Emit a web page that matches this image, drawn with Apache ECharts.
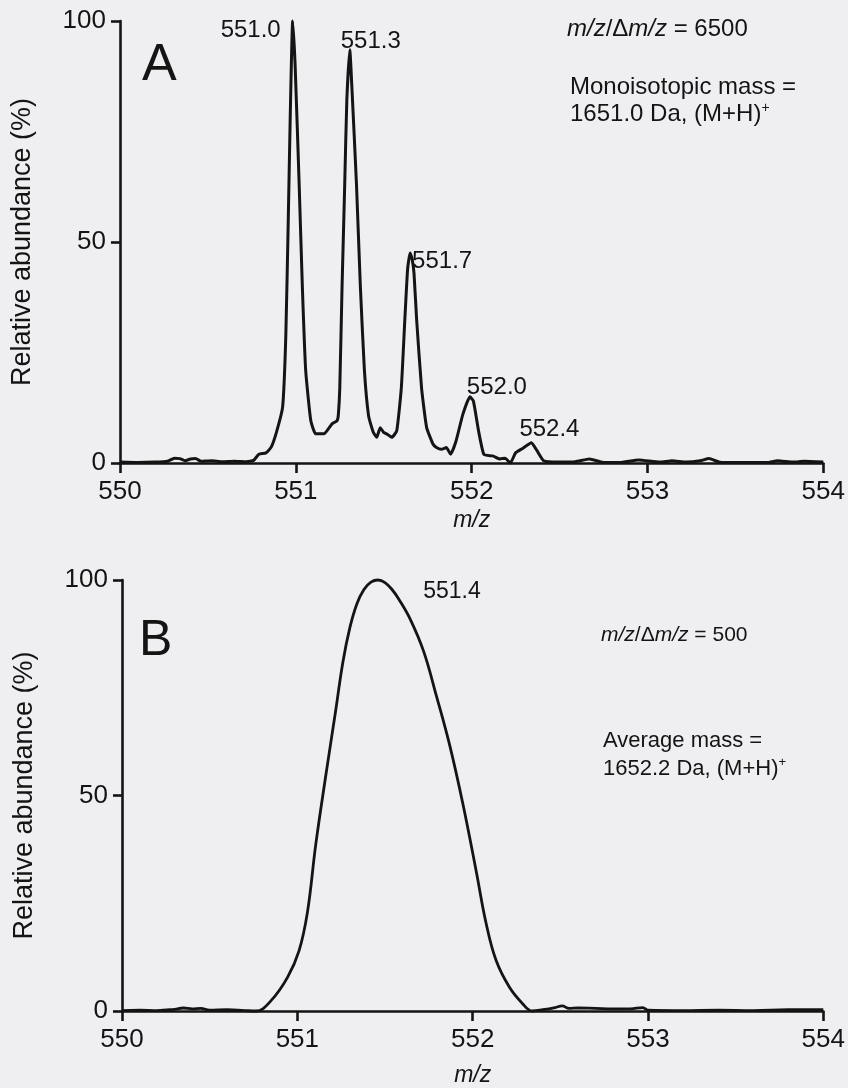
<!DOCTYPE html>
<html><head><meta charset="utf-8">
<script src="https://cdn.jsdelivr.net/npm/echarts@6/dist/echarts.min.js"></script>
<style>html,body{margin:0;padding:0;background:#efeff1;}#c{width:848px;height:1088px;}</style>
</head><body><div id="c"></div>
<script>
// ---------- DATA ----------
const xTicks = [550, 551, 552, 553, 554];
const yTicks = [0, 50, 100];

// Panel A: high resolution spectrum (m/z, relative abundance %)
const mzA = [550.00,550.10,550.20,550.27,550.31,550.34,550.37,550.40,550.43,550.46,550.52,550.58,550.65,550.72,550.76,550.79,550.83,550.86,550.89,550.925,550.943,550.957,550.968,550.982,550.996,551.019,551.037,551.056,551.085,551.113,551.16,551.19,551.207,551.235,551.242,551.25,551.263,551.278,551.29,551.307,551.32,551.345,551.367,551.39,551.414,551.44,551.46,551.48,551.498,551.52,551.546,551.574,551.60,551.62,551.636,551.65,551.662,551.672,551.687,551.715,551.744,551.78,551.80,551.828,551.856,551.88,551.91,551.95,551.99,552.01,552.04,552.07,552.12,552.16,552.19,552.22,552.25,552.29,552.34,552.37,552.41,552.49,552.59,552.67,552.74,552.84,552.95,553.07,553.14,553.22,553.30,553.35,553.41,553.53,553.68,553.74,553.83,553.89,554.00];
const abA = [0.2,0.1,0.2,0.4,1.1,1.0,0.5,0.9,1.0,0.4,0.5,0.3,0.4,0.3,0.6,2.0,2.3,3.6,7.0,12.7,28.7,55,78,100,90,63,40,21,9.6,6.6,6.6,8.0,8.9,9.6,11,17,40,63,82,93.5,84,63,40,21,10.6,7,5.8,8,7,6.5,5.8,7.3,17,32.5,44,47.5,46,43,32.5,17,8,4.3,3.5,3.1,3.5,2.0,4.8,11,15,14,7.1,1.9,1.6,0.9,1.1,0,2.3,3.3,4.6,2.9,0.5,0.2,0.3,0.9,0.2,0.1,0.7,0.2,0.5,0.2,0.5,1.0,0.2,0.1,0.1,0.5,0.2,0.4,0.2];

// Panel B: low resolution spectrum
const mzB = [550.00,550.10,550.20,550.30,550.35,550.40,550.45,550.50,550.60,550.70,550.765,550.85,550.944,551.01,551.058,551.105,551.16,551.218,551.26,551.30,551.34,551.38,551.42,551.46,551.50,551.54,551.58,551.643,551.72,551.794,551.87,551.945,552.02,552.077,552.134,552.21,552.285,552.34,552.40,552.47,552.51,552.55,552.60,552.70,552.80,552.90,552.97,553.00,553.20,553.40,553.60,553.80,554.00];
const abB = [0.1,0.2,0.1,0.4,0.7,0.5,0.6,0.2,0.3,0.1,0,2.4,7.8,14,23,38.6,54,69.5,81,89,94.5,97.8,99.5,100,99.4,97.8,95.5,91,83.5,73,61.5,47.9,32.5,20.3,11.7,5.5,1.7,0,0.3,0.8,1.2,0.6,0.7,0.6,0.5,0.5,0.8,0.2,0.1,0.2,0.1,0.3,0.3];

// Peak annotations
const peakLabelsA = ['551.0', '551.3', '551.7', '552.0', '552.4'];
const peakMzA = [550.982, 551.307, 551.65, 551.99, 552.34];
const peakAbA = [100, 93.5, 47.5, 15, 4.6];
const peakLabelsB = ['551.4'];
const peakMzB = [551.46];
const peakAbB = [100];

// ---------- STYLE ----------
const FONT = "'Liberation Sans', Arial, Helvetica, sans-serif";
const INK = '#141414';
const labelOffsetsA = [[-42, 9], [21, -8], [32, 8], [27, -9], [18, -13]];
const labelOffsetsB = [[74, 12]];

const zip = (a, b) => a.map((v, i) => [v, b[i]]);

function xAxisCfg(gridIndex, gap) {
  return {
    type: 'value', gridIndex, min: xTicks[0], max: xTicks[xTicks.length - 1],
    interval: xTicks[1] - xTicks[0],
    name: 'm/z', nameLocation: 'middle', nameGap: gap,
    nameTextStyle: { fontFamily: FONT, fontSize: 23, fontStyle: 'italic', color: INK },
    axisLine: { onZero: false, lineStyle: { color: INK, width: 2.6 } },
    axisTick: { show: true, length: 10, inside: false, lineStyle: { color: INK, width: 2.6 } },
    axisLabel: { margin: 16, fontFamily: FONT, fontSize: 26, color: INK },
    splitLine: { show: false }
  };
}
function yAxisCfg(gridIndex) {
  return {
    type: 'value', gridIndex, min: yTicks[0], max: yTicks[yTicks.length - 1],
    interval: yTicks[1] - yTicks[0],
    name: 'Relative abundance (%)', nameLocation: 'middle', nameGap: 84,
    nameTextStyle: { fontFamily: FONT, fontSize: 27, color: INK },
    axisLine: { onZero: false, lineStyle: { color: INK, width: 2.6 } },
    axisTick: { show: true, length: 9, lineStyle: { color: INK, width: 2.6 } },
    axisLabel: { margin: 14, fontFamily: FONT, fontSize: 26, color: INK },
    splitLine: { show: false }
  };
}
function peakSeries(idx, labels, mz, ab, offsets, size) {
  return {
    type: 'scatter', xAxisIndex: idx, yAxisIndex: idx, symbolSize: 0, silent: true,
    itemStyle: { opacity: 1 },
    data: labels.map((t, i) => ({
      value: [mz[i], ab[i], t],
      label: { offset: offsets[i] }
    })),
    label: {
      show: true, position: 'inside', formatter: p => p.value[2],
      fontFamily: FONT, fontSize: size, color: INK, opacity: 1,
      align: 'center', verticalAlign: 'middle'
    },
    z: 5
  };
}

function mkRich(size) {
  return {
    i: { fontFamily: FONT, fontSize: size, fontStyle: 'italic', fill: INK },
    n: { fontFamily: FONT, fontSize: size, fill: INK },
    s: { fontFamily: FONT, fontSize: Math.round(size * 0.6), fill: INK, padding: [0, 0, Math.round(size * 0.55), 0] }
  };
}
function txt(x, y, text, size) {
  return {
    type: 'text', left: x, top: y,
    style: { text, rich: mkRich(size), fontFamily: FONT, fontSize: size, fill: INK }
  };
}

const chart = echarts.init(document.getElementById('c'), null, { renderer: 'canvas' });
chart.setOption({
  backgroundColor: '#efeff1',
  animation: false,
  grid: [
    { left: 120, top: 21, width: 704, height: 442 },
    { left: 122, top: 580, width: 703, height: 435 }
  ],
  xAxis: [xAxisCfg(0, 46), xAxisCfg(1, 53)],
  yAxis: [yAxisCfg(0), yAxisCfg(1)],
  series: [
    {
      type: 'line', xAxisIndex: 0, yAxisIndex: 0, data: zip(mzA, abA),
      showSymbol: false, smooth: 0.15, clip: false,
      lineStyle: { color: INK, width: 3 }, z: 3
    },
    {
      type: 'line', xAxisIndex: 1, yAxisIndex: 1, data: zip(mzB, abB),
      showSymbol: false, smooth: 0.4, clip: false,
      lineStyle: { color: INK, width: 2.8 }, z: 3
    },
    peakSeries(0, peakLabelsA, peakMzA, peakAbA, labelOffsetsA, 24),
    peakSeries(1, peakLabelsB, peakMzB, peakAbB, labelOffsetsB, 23)
  ],
  graphic: [
    { type: 'text', left: 142, top: 40, style: { text: 'A', fontFamily: FONT, fontSize: 52, fill: INK } },
    { type: 'text', left: 139, top: 616, style: { text: 'B', fontFamily: FONT, fontSize: 50, fill: INK } },
    txt(567, 17, '{i|m/z}{n|/Δ}{i|m/z}{n| = 6500}', 24),
    txt(570, 75, '{n|Monoisotopic mass =}', 24),
    txt(570, 101, '{n|1651.0 Da, (M+H)}{s|+}', 24),
    txt(601, 625, '{i|m/z}{n|/Δ}{i|m/z}{n| = 500}', 21),
    txt(603, 730, '{n|Average mass =}', 22),
    txt(603, 756, '{n|1652.2 Da, (M+H)}{s|+}', 22)
  ]
});
</script></body></html>
